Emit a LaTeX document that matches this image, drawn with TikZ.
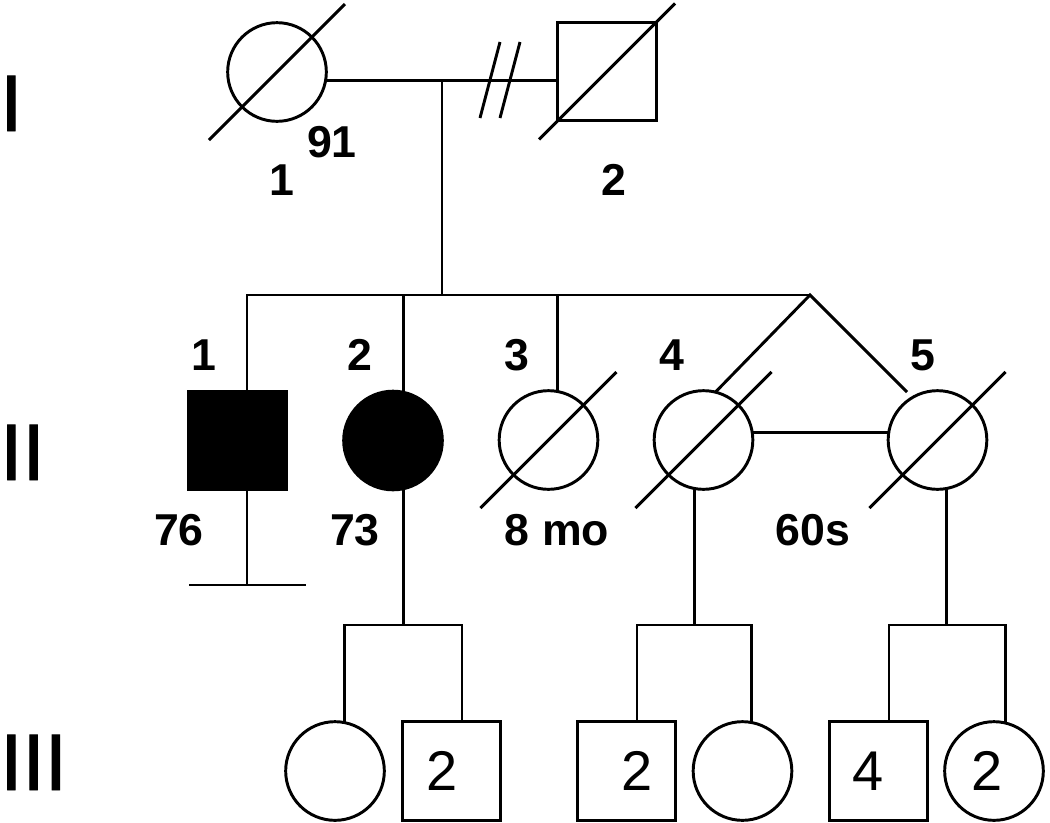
\documentclass[tikz,border=0pt]{standalone}
\usepackage{fontspec}
\setmainfont{Liberation Sans}
\newfontfamily\genfont[FakeBold=1.2]{Liberation Sans}
\begin{document}
\begin{tikzpicture}[x=0.75pt,y=-0.75pt]
\tikzset{
  ind/.style={draw, line width=2.2pt, minimum size=74pt, inner sep=0pt, outer sep=0pt},
  fem/.style={ind, circle},
  mal/.style={ind, rectangle},
  aff/.style={fill=black},
  ln/.style={line width=2.2pt},
  lbl/.style={font=\fontsize{33.5}{36}\selectfont\bfseries, inner sep=0pt, anchor=base},
  cnt/.style={font=\fontsize{42}{44}\selectfont, inner sep=0pt, anchor=base},
  gen/.style={font=\genfont\fontsize{60}{60}\selectfont, inner sep=0pt, anchor=base west},
}
\newcommand\deadmark[1]{\draw[ln] ([shift={(-68,68)}]#1.center) -- ([shift={(68,-68)}]#1.center);}
\useasboundingbox (0,0) rectangle (1050,822);

% generation labels
\node[gen] (gI) at (0,131) {I};
\node[gen] (gII) at (0,480) {II};
\node[gen] (gIII) at (0,790) {III};

% generation I
\node[fem] (I1) at (277,72) {};
\node[mal] (I2) at (607,71.5) {};
\deadmark{I1}
\deadmark{I2}
\coordinate (mI) at (442,81);
\draw[ln] (I1.-10) -- (I1.-10 -| I2.west);
\coordinate (ds1a) at (480,118);
\coordinate (ds1b) at (500,42);
\coordinate (ds2a) at (500,118);
\coordinate (ds2b) at (520,42);
\draw[ln] (ds1a) -- (ds1b);
\draw[ln] (ds2a) -- (ds2b);
\node[lbl] (a91) at (332,157) {91};
\node[lbl] (nI1) at (282,195) {1};
\node[lbl] (nI2) at (614,195) {2};

% generation II
\node[mal,aff] (II1) at (237.5,440.5) {};
\node[fem,aff] (II2) at (393,440.5) {};
\node[fem] (II3) at (548.5,440) {};
\node[fem] (II4) at (703.5,440) {};
\node[fem] (II5) at (937.5,440) {};
\deadmark{II3}
\deadmark{II4}
\deadmark{II5}

\coordinate (sibII) at (442,295);
\coordinate (sL) at (247,295);
\coordinate (apex) at (810,295);
\coordinate (t5) at (907,392);
\draw[ln] (mI) -- (sibII);
\draw[ln] (sL |- II1.north) -- (sL) -- (apex);
\draw[ln] (II2.78 |- sL) -- (II2.78);
\draw[ln] (II3.79 |- sL) -- (II3.79);
\draw[ln] (II4.76) -- (apex) -- (t5);
\draw[ln] (II4.9) -- (II5.171);

% no offspring
\coordinate (nb) at (247,585);
\coordinate (nbL) at (189,585);
\coordinate (nbR) at (306,585);
\draw[ln] (sL |- II1.south) -- (nb);
\draw[ln] (nbL) -- (nbR);

\node[lbl] (nII1) at (204,370) {1};
\node[lbl] (nII2) at (360,370) {2};
\node[lbl] (nII3) at (517,370) {3};
\node[lbl] (nII4) at (672,370) {4};
\node[lbl] (nII5) at (923,370) {5};
\node[lbl] (a76) at (179,545) {76};
\node[lbl] (a73) at (355,545) {73};
\node[lbl] (a8mo) at (557,545) {8 mo};
\node[lbl] (a60s) at (813,545) {60s};

% generation III
\node[fem] (III1) at (335,771) {};
\node[mal] (III2) at (451.5,771) {};
\node[mal] (III3) at (626.5,771) {};
\node[fem] (III4) at (742.5,771) {};
\node[mal] (III5) at (878.5,771) {};
\node[fem] (III6) at (994,771) {};

\node[cnt] (c2) at (442,790) {2};
\node[cnt] (c3) at (637,790) {2};
\node[cnt] (c5) at (868,790) {4};
\node[cnt] (c6) at (987,790) {2};

\coordinate (s3R) at (462,625);
\draw[ln] (III1.79) |- (s3R) -- (s3R |- III2.north);
\draw[ln] (II2.-78) -- (II2.-78 |- s3R);

\coordinate (s4L) at (637,625);
\draw[ln] (s4L |- III3.north) -- (s4L) -| (III4.79);
\draw[ln] (II4.-100) -- (II4.-100 |- s4L);

\coordinate (s5L) at (889,625);
\draw[ln] (s5L |- III5.north) -- (s5L) -| (III6.77);
\draw[ln] (II5.-79) -- (II5.-79 |- s5L);
\end{tikzpicture}
\end{document}
